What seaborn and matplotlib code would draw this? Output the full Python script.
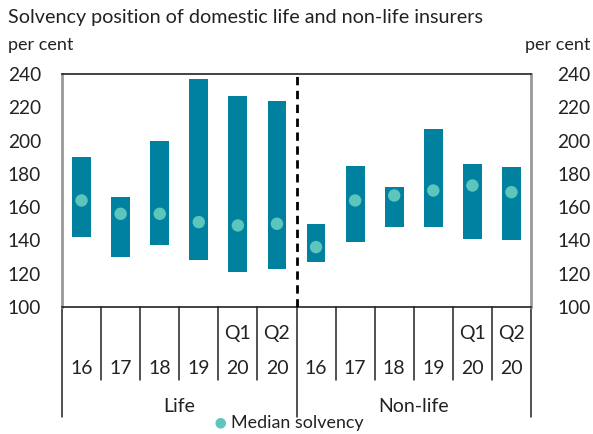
import matplotlib
matplotlib.use("Agg")
import matplotlib.pyplot as plt
import seaborn as sns
import pandas as pd
import numpy as np

# Solvency ranges (per cent) by insurer type and period
groups = ["Life", "Non-life"]
periods = ["16", "17", "18", "19", "Q1\n20", "Q2\n20"]
quarter_row = ["", "", "", "", "Q1", "Q2"]
year_row = ["16", "17", "18", "19", "20", "20"]

life_low = [142, 130, 137, 128, 121, 123]
life_high = [190, 166, 200, 237, 227, 224]
life_median = [164, 156, 156, 151, 149, 150]

nonlife_low = [127, 139, 148, 148, 141, 140]
nonlife_high = [150, 185, 172, 207, 186, 184]
nonlife_median = [136, 164, 167, 170, 173, 169]

yticks = [100, 120, 140, 160, 180, 200, 220, 240]

BAR = "#00819F"
DOT = "#5CC5BC"
INK = "#222222"

sns.set_theme(style="white")
plt.rcParams["font.family"] = ["Lato", "DejaVu Sans"]

df = pd.DataFrame({
    "group": [g for g in groups for _ in periods],
    "period": periods * 2,
    "low": life_low + nonlife_low,
    "high": life_high + nonlife_high,
    "median": life_median + nonlife_median,
})
df["pos"] = np.arange(len(df))

W, H = 593, 434
fig = plt.figure(figsize=(W / 100, H / 100), dpi=100)
ax = fig.add_axes([62 / W, (H - 307) / H, 469 / W, 233 / H])

# Range bars floating between low and high
ax.bar(df["pos"], df["high"] - df["low"], bottom=df["low"], width=0.48,
       color=BAR, edgecolor="none", zorder=2)
# Medians
sns.scatterplot(data=df, x="pos", y="median", ax=ax, color=DOT, s=80,
                edgecolor="none", zorder=3, label="Median solvency", legend=False)

ax.set_xlim(-0.5, len(df) - 0.5)
ax.set_ylim(100, 240)
ax.set_yticks(yticks)
ax.set_yticklabels([str(t) for t in yticks], fontsize=13.8, color=INK)
ax.set_xticks([])
ax.set_xlabel("")
ax.set_ylabel("")
ax.tick_params(axis="y", length=0, pad=15)

# Divider between life and non-life
ax.axvline(5.5, color="black", linestyle=(0, (3, 2)), linewidth=2, zorder=4)

for side in ["left", "right"]:
    ax.spines[side].set_color("#999999")
    ax.spines[side].set_linewidth(2)
for side in ["top", "bottom"]:
    ax.spines[side].set_color(INK)
    ax.spines[side].set_linewidth(1.2)

ax2 = ax.twinx()
ax2.set_ylim(100, 240)
ax2.set_yticks(yticks)
ax2.set_yticklabels([str(t) for t in yticks], fontsize=13.8, color=INK)
ax2.tick_params(axis="y", length=0, pad=19)
for s in ax2.spines.values():
    s.set_visible(False)

# Multi-level category axis
trans = ax.get_xaxis_transform()
h_px = 233.0
def ay(py):
    return (307 - py) / h_px

for i in range(len(df) + 1):
    x = i - 0.5
    bottom = ay(417) if i % len(periods) == 0 else ay(380)
    ax.plot([x, x], [0, bottom], transform=trans, color=INK,
            linewidth=1.1, clip_on=False)

for i, (q, y) in enumerate(zip(quarter_row * 2, year_row * 2)):
    if q:
        ax.text(i, ay(334), q, transform=trans, ha="center", va="center",
                fontsize=14, color=INK)
    ax.text(i, ay(369), y, transform=trans, ha="center", va="center",
            fontsize=14, color=INK)

for k, g in enumerate(groups):
    ax.text(k * len(periods) + (len(periods) - 1) / 2, ay(406), g,
            transform=trans, ha="center", va="center", fontsize=14,
            color=INK)

fig.text(8 / W, 1 - 17 / H, "Solvency position of domestic life and non-life insurers",
         ha="left", va="center", fontsize=14.2, color=INK)
fig.text(8 / W, 1 - 45 / H, "per cent", ha="left", va="center",
         fontsize=13, color=INK)
fig.text(590 / W, 1 - 45 / H, "per cent", ha="right", va="center",
         fontsize=13, color=INK)

handles, labels = ax.get_legend_handles_labels()
fig.legend(handles, labels, loc="center", bbox_to_anchor=(283 / W, 1 - 423 / H),
           frameon=False, fontsize=12.9, handletextpad=-0.45, markerscale=0.85,
           borderaxespad=0, borderpad=0, labelcolor=INK)

fig.savefig("out.png", dpi=100)
